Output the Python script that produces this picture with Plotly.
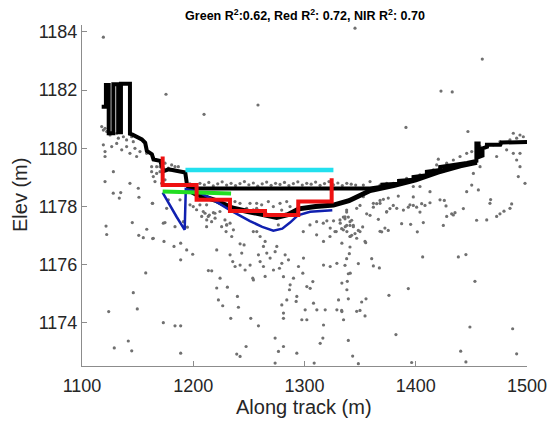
import plotly.graph_objects as go

# ---------------- data ----------------
pts_x = [
    1119.2, 1175.5, 1209.7, 1258.2, 1345.4, 1459.8, 1422.7, 1432.8, 1391.2, 1446.9, 1420.3,
    1117.7, 1119.2, 1120.7, 1122.2, 1125.2, 1131.2, 1132.7, 1137.2, 1140.1, 1144.6, 1146.1,
    1119.2, 1120.7, 1120.7, 1126.7, 1131.2, 1135.7, 1140.1, 1143.1, 1147.6, 1152.1, 1149.1,
    1158.1, 1162.6, 1167.1, 1170.1, 1174.6, 1177.6, 1182.1, 1186.6, 1171.6, 1128.2, 1120.7,
    1150.6, 1143.1,
    1128.1, 1134.8, 1133.5, 1151.2, 1163.2, 1121.6, 1122.2, 1145.2, 1158.2, 1151.0, 1155.1,
    1163.5, 1157.3, 1146.1, 1149.7, 1124.0, 1141.6, 1129.0, 1144.7,
    1164.1, 1174.6, 1173.7, 1182.7, 1188.7, 1188.7, 1194.1, 1199.5, 1213.6, 1216.6, 1210.6,
    1214.5, 1218.1, 1207.6, 1212.1, 1219.6, 1221.1, 1224.1, 1221.1, 1222.6, 1226.5, 1230.1,
    1229.5, 1233.1, 1236.1, 1234.6, 1230.7, 1239.7, 1240.6, 1233.7, 1233.1, 1235.5, 1237.6,
    1242.1, 1243.6, 1245.7, 1242.1, 1246.6, 1251.1, 1253.5, 1254.1, 1251.7, 1258.6, 1239.1,
    1247.5, 1242.1, 1257.1, 1260.1, 1264.6, 1263.1, 1266.1, 1258.6, 1260.1, 1263.1, 1264.6,
    1269.1, 1272.1, 1273.6, 1275.1, 1277.5, 1279.6, 1281.1, 1282.6, 1285.6, 1287.1, 1290.1,
    1286.5, 1293.1, 1292.5, 1294.6, 1299.1, 1298.5, 1302.1, 1305.1, 1307.5, 1297.6, 1302.1,
    1300.6, 1308.1, 1311.1, 1284.1, 1281.1, 1281.1, 1279.6, 1273.6, 1281.1, 1276.6, 1273.6,
    1293.1, 1308.7, 1314.1, 1316.5, 1317.1, 1320.1, 1323.1, 1326.1, 1328.5, 1332.1, 1333.6,
    1336.6, 1338.1, 1341.1, 1317.1, 1323.1, 1329.1, 1330.6, 1333.6, 1338.1, 1341.1, 1317.1,
    1318.6, 1333.6, 1335.1, 1329.1, 1173.1, 1183.6, 1188.7, 1188.7,
    1333.4, 1337.9, 1340.9, 1343.9, 1336.4, 1339.4, 1342.4, 1334.9, 1337.9, 1342.4, 1345.4,
    1348.4, 1352.3, 1337.9, 1336.4, 1340.3, 1340.9, 1339.4, 1338.5, 1339.4, 1333.4, 1346.9,
    1349.9, 1351.4, 1355.3, 1354.4, 1339.4, 1343.3, 1348.4, 1348.4, 1360.4, 1361.9, 1367.3,
    1354.4, 1355.0, 1367.9, 1369.4, 1372.3, 1375.3, 1366.4, 1373.8, 1376.8, 1379.8, 1384.3,
    1349.9, 1355.9, 1358.9, 1361.9, 1364.9, 1367.9, 1370.9, 1375.3, 1387.3, 1395.4, 1401.4,
    1406.8, 1393.3, 1397.8, 1400.8, 1403.8, 1405.3, 1408.3, 1412.8, 1397.8, 1406.2, 1375.9,
    1393.3, 1382.2, 1396.3, 1424.8, 1425.7, 1427.2, 1432.3, 1435.3, 1442.8, 1454.7, 1467.3,
    1475.7, 1479.3, 1486.2, 1438.3, 1445.1, 1453.2, 1448.7, 1487.1, 1440.4, 1445.1, 1490.7,
    1418.8, 1421.8, 1427.8, 1433.8, 1439.8, 1445.8, 1450.3, 1454.8, 1457.8, 1487.7, 1493.7,
    1496.7, 1490.7, 1484.7, 1475.7, 1469.7, 1481.7, 1487.7, 1493.7, 1472.7, 1490.7, 1493.7,
    1492.2, 1498.2, 1457.8, 1451.8, 1456.3, 1450.3, 1445.8, 1466.7, 1484.7, 1472.7, 1463.8,
    1433.8, 1427.8, 1421.8, 1412.8, 1403.8, 1397.8, 1394.8, 1388.9, 1382.9, 1373.9, 1367.9,
    1361.9, 1352.9, 1346.9, 1337.9, 1352.9, 1358.9, 1367.9, 1373.9, 1379.9, 1385.9, 1391.8,
    1397.8, 1403.8, 1409.8, 1415.8,
    1197, 1202, 1206, 1210, 1214, 1218, 1222, 1226, 1230, 1234, 1238, 1242, 1246, 1250,
    1254, 1258, 1262, 1266, 1270, 1274, 1278, 1282, 1286, 1290, 1294, 1298, 1302, 1306,
    1310, 1314, 1318, 1322, 1326, 1330, 1334, 1338, 1342, 1346,
    1162.6, 1164.1, 1167.1, 1165.6, 1170.1, 1179.1, 1183.6, 1180.6, 1174.6, 1177.6, 1163.5,
    1176.1, 1188.1, 1200.0, 1197.1, 1203.0, 1206.0, 1212.0, 1209.0, 1213.5, 1216.5, 1219.5,
    1224.0, 1228.5, 1230.0, 1173.1, 1183.6, 1191.1, 1194.7, 1212.0, 1225.5, 1248.0, 1251.0,
    1254.0, 1257.0, 1242.0, 1237.5,
    1257.0, 1261.5, 1267.5, 1272.0, 1278.0, 1279.5, 1284.0, 1287.0, 1276.5, 1254.0, 1304.9,
    1310.9, 1316.9, 1298.9, 1310.9, 1322.9, 1331.9, 1336.4, 1340.9, 1343.9, 1334.9, 1327.4,
    1349.9, 1340.9, 1346.9,
]
pts_y = [
    1183.82, 1181.86, 1181.17, 1181.49, 1184.13, 1183.07, 1181.97, 1181.94, 1180.72, 1180.58, 1179.63,
    1180.75, 1180.63, 1180.69, 1180.58, 1180.46, 1180.52, 1180.35, 1180.40, 1180.29, 1180.40, 1180.23,
    1180.12, 1179.89, 1179.72, 1180.06, 1180.17, 1179.95, 1180.06, 1179.83, 1180.00, 1179.89, 1179.72,
    1179.83, 1179.37, 1179.37, 1179.20, 1179.49, 1179.32, 1179.26, 1179.37, 1178.80, 1179.20, 1178.86,
    1178.63, 1178.80,
    1178.46, 1178.48, 1178.29, 1178.32, 1178.11, 1177.33, 1177.04, 1177.45, 1177.22, 1177.01, 1176.93,
    1176.90, 1175.72, 1175.04, 1174.48, 1174.39, 1173.38, 1173.14, 1173.04,
    1176.91, 1177.45, 1176.80, 1176.63, 1176.74, 1176.17, 1176.51, 1176.36, 1175.80, 1175.79, 1177.77,
    1177.71, 1177.79, 1177.66, 1177.54, 1177.60, 1176.51, 1175.54, 1175.20, 1174.79, 1174.59, 1177.37,
    1177.14, 1177.43, 1177.20, 1176.97, 1175.23, 1174.91, 1174.54, 1174.16, 1176.34, 1176.11, 1175.94,
    1176.72, 1176.40, 1176.68, 1175.99, 1175.82, 1175.99, 1175.54, 1175.48, 1174.16, 1173.90, 1172.93,
    1173.19, 1172.85, 1177.14, 1176.97, 1176.80, 1176.63, 1176.40, 1176.34, 1176.11, 1175.94, 1175.60,
    1176.23, 1175.82, 1176.45, 1176.63, 1175.88, 1176.05, 1175.59, 1176.34, 1176.17, 1175.31, 1175.54,
    1175.14, 1174.91, 1174.74, 1175.94, 1176.23, 1175.71, 1175.25, 1175.19, 1175.42, 1174.11, 1174.11,
    1174.45, 1174.68, 1174.45, 1174.79, 1174.34, 1174.16, 1174.62, 1173.48, 1173.19, 1173.02, 1172.62,
    1172.96, 1172.62, 1173.30, 1173.48, 1176.80, 1177.51, 1177.26, 1177.51, 1177.14, 1177.43, 1176.74,
    1177.31, 1177.14, 1176.97, 1175.99, 1175.94, 1176.05, 1174.79, 1175.37, 1175.14, 1175.71, 1173.93,
    1174.45, 1174.39, 1174.11, 1174.45, 1174.01, 1173.90, 1173.90, 1172.96,
    1177.24, 1177.35, 1177.35, 1177.35, 1177.58, 1177.64, 1177.53, 1177.64, 1177.81, 1177.01, 1177.07,
    1177.18, 1177.30, 1176.21, 1175.98, 1176.38, 1176.61, 1175.69, 1175.43, 1174.83, 1174.43, 1174.40,
    1174.43, 1174.72, 1174.83, 1174.24, 1173.40, 1172.86, 1172.60, 1176.04, 1176.21, 1175.96, 1175.89,
    1176.80, 1176.76, 1177.15, 1177.13, 1177.26, 1177.18, 1177.56, 1177.81, 1177.93, 1178.04, 1178.36,
    1178.04, 1177.75, 1177.70, 1177.98, 1178.10, 1178.21, 1178.25, 1178.29, 1177.41, 1177.39, 1177.13,
    1177.45, 1177.98, 1178.04, 1177.98, 1177.81, 1178.10, 1178.04, 1178.13, 1178.33, 1176.27, 1174.95,
    1175.18, 1173.60, 1172.64, 1177.35, 1178.21, 1178.02, 1177.75, 1177.79, 1177.93, 1177.53, 1178.24,
    1177.75, 1177.84, 1178.09, 1176.27, 1176.35, 1175.43, 1173.86, 1173.80, 1173.03, 1172.66, 1172.94,
    1179.43, 1179.32, 1179.49, 1179.60, 1179.72, 1179.83, 1179.89, 1179.95, 1180.06, 1180.52, 1180.46,
    1180.40, 1180.35, 1180.29, 1180.23, 1180.12, 1179.95, 1179.83, 1179.83, 1179.72, 1179.60, 1179.37,
    1179.03, 1178.80, 1179.37, 1179.14, 1178.57, 1178.74, 1178.51, 1178.11, 1177.94, 1177.66, 1177.54,
    1177.71, 1177.66, 1178.23, 1178.51, 1178.69, 1178.69, 1178.06, 1177.88, 1177.94, 1177.83, 1178.11,
    1178.11, 1178.34, 1177.94, 1177.88, 1178.74, 1178.86, 1178.74, 1178.80, 1178.80, 1178.86, 1178.97,
    1178.97, 1179.09, 1179.14, 1179.26,
    1178.78, 1178.72, 1178.80, 1178.75, 1178.83, 1178.71, 1178.78, 1178.85, 1178.74, 1178.80, 1178.72,
    1178.79, 1178.86, 1178.75, 1178.81, 1178.70, 1178.78, 1178.84, 1178.73, 1178.80, 1178.76, 1178.83,
    1178.72, 1178.79, 1178.85, 1178.74, 1178.80, 1178.77, 1178.84, 1178.73, 1178.79, 1178.86, 1178.75,
    1178.81, 1178.72, 1178.80, 1178.77, 1178.74,
    1179.20, 1179.03, 1179.14, 1178.86, 1179.37, 1179.26, 1179.37, 1179.43, 1178.92, 1178.23, 1178.11,
    1177.94, 1178.23, 1178.00, 1178.06, 1177.89, 1178.06, 1178.06, 1177.83, 1177.66, 1177.48, 1177.77,
    1177.83, 1177.54, 1177.37, 1177.43, 1177.31, 1177.48, 1177.29, 1177.31, 1177.31, 1177.94, 1178.11,
    1177.89, 1177.94, 1178.11, 1178.17,
    1178.11, 1178.06, 1178.17, 1178.00, 1178.11, 1177.88, 1178.17, 1178.00, 1177.37, 1177.14, 1177.37,
    1177.48, 1177.43, 1177.14, 1177.03, 1176.97, 1177.54, 1177.65, 1177.48, 1177.31, 1177.20, 1177.14,
    1177.14, 1176.97, 1176.91,
]

# surface (upper black) profile
surf_x = [1117.7, 1121.5, 1121.5, 1124.0, 1124.0, 1128.2, 1128.2, 1132.5, 1132.5, 1135.0, 1135.0,
          1143.1, 1143.1, 1145.0, 1153.8, 1156.8, 1158.3, 1162.8, 1164.3, 1170.3, 1171.8, 1173.2,
          1177.8, 1188.3, 1192.8, 1194.3, 1196.0, 1359.0, 1370.0, 1370.0, 1385.0, 1385.0, 1398.0,
          1398.0, 1410.0, 1410.0, 1422.0, 1422.0, 1435.0, 1446.0, 1454.5, 1454.5, 1456.5, 1456.5,
          1460.0, 1460.0, 1464.0, 1464.0, 1476.0, 1477.0, 1500.0]
surf_y = [1181.43, 1181.43, 1182.18, 1182.18, 1180.52, 1180.52, 1182.20, 1182.20, 1180.55, 1180.55, 1182.22,
          1182.22, 1180.50, 1180.48, 1180.31, 1180.19, 1179.91, 1179.80, 1179.62, 1179.57, 1179.40, 1179.22,
          1179.28, 1179.22, 1179.17, 1178.77, 1178.62, 1178.62, 1178.68, 1178.75, 1178.78, 1178.88, 1178.92,
          1179.02, 1179.08, 1179.20, 1179.26, 1179.36, 1179.42, 1179.50, 1179.57, 1180.17, 1180.17, 1179.70,
          1179.75, 1180.00, 1180.05, 1180.12, 1180.12, 1180.20, 1180.22]

# lower black (bottom) profile
bed_x = [1194, 1203, 1221, 1235, 1250, 1262, 1275, 1285, 1295, 1310, 1326, 1340, 1359, 1380, 1400, 1420, 1440, 1455]
bed_y = [1178.60, 1178.42, 1178.20, 1177.95, 1177.82, 1177.72, 1177.63, 1177.72, 1177.92, 1178.00, 1178.05,
         1178.20, 1178.55, 1178.72, 1178.92, 1179.18, 1179.40, 1179.52]

# NIR (blue)
nir_x = [1172.5, 1177.6, 1185.0, 1192.3, 1193.3, 1203, 1215, 1233, 1251, 1262, 1272, 1280, 1287, 1294, 1305, 1325]
nir_y = [1178.48, 1178.12, 1177.65, 1177.20, 1178.60, 1178.52, 1178.30, 1177.88, 1177.50, 1177.30, 1177.17,
         1177.24, 1177.45, 1177.70, 1177.82, 1177.87]

# Green
green_x = [1172.5, 1234.0]
green_y = [1178.52, 1178.45]

# Red (step)
red_x = [1172.5, 1172.5, 1203.0, 1203.0, 1233.0, 1233.0, 1264.5, 1264.5, 1294.4, 1294.4, 1324.4, 1324.4]
red_y = [1179.72, 1178.74, 1178.74, 1178.23, 1178.23, 1177.85, 1177.85, 1177.71, 1177.71, 1178.17, 1178.17, 1178.97]

# water surface (cyan)
water_x = [1193.0, 1326.0]
water_y = [1179.26, 1179.26]

x_ticks = [1100, 1200, 1300, 1400, 1500]
y_ticks = [1174, 1176, 1178, 1180, 1182, 1184]

title_text = "Green R<sup>2</sup>:0.62, Red R<sup>2</sup>: 0.72, NIR R<sup>2</sup>: 0.70"
x_title = "Along track (m)"
y_title = "Elev (m)"

FONT = "Liberation Sans, Arial, sans-serif"
W, H = 551, 423
ML, MR, MT, MB = 82, 24, 25, 57

# ---------------- figure ----------------
fig = go.Figure()
fig.add_trace(go.Scatter(x=pts_x, y=pts_y, mode="markers",
                         marker=dict(size=3.2, color="#707070"), hoverinfo="skip"))
fig.add_trace(go.Scatter(x=bed_x, y=bed_y, mode="lines", line=dict(color="black", width=5)))
fig.add_trace(go.Scatter(x=surf_x, y=surf_y, mode="lines", line=dict(color="black", width=4)))
fig.add_trace(go.Scatter(x=nir_x, y=nir_y, mode="lines", line=dict(color="#1020b0", width=2.5)))
fig.add_trace(go.Scatter(x=green_x, y=green_y, mode="lines", line=dict(color="#22dd22", width=4)))
fig.add_trace(go.Scatter(x=red_x, y=red_y, mode="lines", line=dict(color="#ee1111", width=4)))
fig.add_trace(go.Scatter(x=water_x, y=water_y, mode="lines", line=dict(color="#22e0ee", width=4.5)))

axis_common = dict(showgrid=False, zeroline=False, showline=True, linecolor="#8c8c8c", linewidth=1,
                   ticks="inside", ticklen=5, tickcolor="#8c8c8c", mirror=False, automargin=False,
                   tickfont=dict(family=FONT, size=18, color="#262626"))

def px_x(p):
    return (p - ML) / (W - ML - MR)

def px_y(p):
    return 1 - (p - MT) / (H - MT - MB)

fig.update_layout(
    width=W, height=H,
    margin=dict(l=ML, r=MR, t=MT, b=MB, autoexpand=False),
    paper_bgcolor="white", plot_bgcolor="white",
    showlegend=False,
    title=dict(text=title_text, x=0.5535, xanchor="center", y=1 - 16 / H, yanchor="middle",
               font=dict(family=FONT, size=12.5, color="black", weight="bold")),
    xaxis=dict(range=[1100, 1500], tickvals=x_ticks, ticklabelstandoff=3, **axis_common),
    yaxis=dict(range=[1172.52, 1184.24], tickvals=y_ticks, **axis_common),
    annotations=[
        dict(text=x_title, xref="paper", yref="paper", x=px_x(304), y=px_y(407),
             xanchor="center", yanchor="middle", showarrow=False,
             font=dict(family=FONT, size=20, color="#262626")),
        dict(text=y_title, xref="paper", yref="paper", x=px_x(20), y=px_y(195),
             xanchor="center", yanchor="middle", showarrow=False, textangle=-90,
             font=dict(family=FONT, size=20, color="#262626")),
    ],
)

fig.write_html("out.html", config={"displayModeBar": False},
               post_script="document.body.style.margin='0px';")
